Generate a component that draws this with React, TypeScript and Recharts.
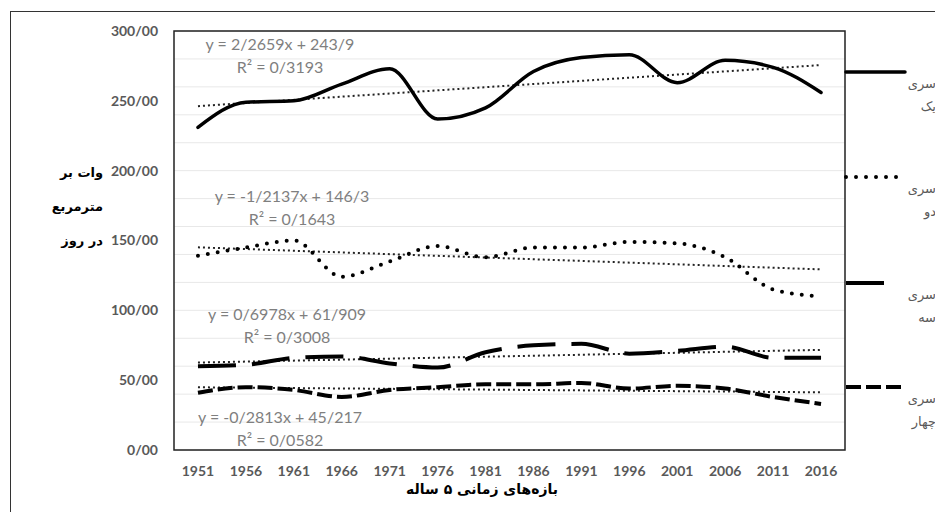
import React from 'react';
import { LineChart, Line, XAxis, YAxis, CartesianGrid, ReferenceArea } from 'recharts';

const years = [1951, 1956, 1961, 1966, 1971, 1976, 1981, 1986, 1991, 1996, 2001, 2006, 2011, 2016];
const seriesOne = [231, 249, 250, 262, 273, 237, 245, 271, 281, 283, 263, 279, 274, 256];
const seriesTwo = [139, 145, 150, 124, 135, 146, 138, 145, 145, 149, 148, 138, 115, 110];
const seriesThree = [60, 61, 66, 67, 62, 59, 70, 75, 76, 69, 71, 74, 66, 66];
const seriesFour = [41, 45, 43, 38, 43, 45, 47, 47, 48, 44, 46, 44, 38, 33];

// trend lines: value at first and last period
const trendStart = [246.2, 145.1, 62.6, 44.9];
const trendEnd = [275.6, 129.3, 71.7, 41.3];

const yTicks = [0, 50, 100, 150, 200, 250, 300];
const gridValues = [0, 10, 20, 30, 40, 50, 60, 70, 80, 90, 100, 110, 120, 130, 140, 150, 160, 170, 180, 190, 200, 210, 220, 230, 240, 250, 260, 270, 280, 290, 300];

const seriesNames = ['یک', 'دو', 'سه', 'چهار'];
const equations = [
  { eq: 'y = 2/2659x + 243/9', r2: 'R² = 0/3193', cx: 280, y: 43 },
  { eq: 'y = -1/2137x + 146/3', r2: 'R² = 0/1643', cx: 292, y: 195 },
  { eq: 'y = 0/6978x + 61/909', r2: 'R² = 0/3008', cx: 287, y: 313 },
  { eq: 'y = -0/2813x + 45/217', r2: 'R² = 0/0582', cx: 280, y: 416 },
];

const last = years.length - 1;
const data = years.map((year, i) => ({
  year,
  s1: seriesOne[i],
  s2: seriesTwo[i],
  s3: seriesThree[i],
  s4: seriesFour[i],
  t1: i === 0 ? trendStart[0] : i === last ? trendEnd[0] : null,
  t2: i === 0 ? trendStart[1] : i === last ? trendEnd[1] : null,
  t3: i === 0 ? trendStart[2] : i === last ? trendEnd[2] : null,
  t4: i === 0 ? trendStart[3] : i === last ? trendEnd[3] : null,
}));

const lineStyles = [
  { dash: undefined, width: 3.5, cap: 'round' as const },
  { dash: '0 10', width: 4, cap: 'round' as const },
  { dash: '38 16', width: 4, cap: 'butt' as const },
  { dash: '15 5', width: 4, cap: 'butt' as const },
];

const persianFont = '"DejaVu Sans", sans-serif';
const latinFont = 'Lato, "Liberation Sans", sans-serif';

const legendRows = [72, 177, 283, 387];
const legendLens = [59, 59, 41, 59];

export default function App() {
  return (
    <div style={{ position: 'fixed', left: 0, top: 0, width: 935, height: 512, overflow: 'hidden', background: '#fff' }}>
      <div style={{ position: 'absolute', left: 10, top: 11, width: 1000, height: 600, borderLeft: '1.5px solid #333', borderTop: '1.5px solid #333' }} />
      <LineChart width={935} height={512} data={data} margin={{ top: 31, right: 90, bottom: 32, left: 114 }}>
        <CartesianGrid vertical={false} stroke="#e8e8e8" horizontalValues={gridValues} />
        <XAxis
          dataKey="year"
          type="number"
          domain={[1948.5, 2018.5]}
          ticks={years}
          axisLine={false}
          tickLine={false}
          tickSize={0}
          tickMargin={16}
          height={30}
          tick={{ fill: '#595959', fontSize: 14, fontWeight: 700, fontFamily: latinFont }}
        />
        <YAxis
          domain={[0, 300]}
          ticks={yTicks}
          width={60}
          axisLine={false}
          tickLine={false}
          tickSize={0}
          tickMargin={16}
          tickFormatter={(v: number) => v.toFixed(2).replace('.', '/')}
          tick={{ fill: '#595959', fontSize: 14, fontWeight: 700, fontFamily: latinFont }}
        />
        {['t1', 't2', 't3', 't4'].map((k) => (
          <Line key={k} dataKey={k} connectNulls stroke="#222" strokeWidth={2} strokeDasharray="2 3" dot={false} activeDot={false} isAnimationActive={false} />
        ))}
        {['s1', 's2', 's3', 's4'].map((k, i) => (
          <Line
            key={k}
            dataKey={k}
            type="monotone"
            stroke="#000"
            strokeWidth={lineStyles[i].width}
            strokeDasharray={lineStyles[i].dash}
            strokeLinecap={lineStyles[i].cap}
            dot={false}
            activeDot={false}
            isAnimationActive={false}
          />
        ))}
        <ReferenceArea x1={1948.5} x2={2018.5} y1={0} y2={300} fill="none" stroke="#222" strokeWidth={1.5} />
      </LineChart>
      <svg width={935} height={512} style={{ position: 'absolute', left: 0, top: 0, pointerEvents: 'none' }}>
        {equations.map((e, i) => (
          <g key={i} fill="#7f7f7f" fontFamily={latinFont} fontSize={16} textAnchor="middle" dominantBaseline="central">
            <text x={e.cx} y={e.y}>{e.eq}</text>
            <text x={e.cx} y={e.y + 23}>{e.r2}</text>
          </g>
        ))}
        {legendRows.map((y, i) => (
          <g key={i}>
            <line
              x1={846}
              x2={846 + legendLens[i]}
              y1={y}
              y2={y}
              stroke="#000"
              strokeWidth={lineStyles[i].width}
              strokeDasharray={lineStyles[i].dash}
              strokeLinecap={lineStyles[i].cap}
            />
            <text x={936} y={y + 11} textAnchor="end" dominantBaseline="central" fontSize={13} fill="#595959" fontFamily={persianFont}>سری</text>
            <text x={936} y={y + 34} textAnchor="end" dominantBaseline="central" fontSize={13} fill="#595959" fontFamily={persianFont}>{seriesNames[i]}</text>
          </g>
        ))}
        <g fontFamily={persianFont} fontWeight={700} fontSize={13} fill="#000" textAnchor="end" dominantBaseline="central">
          <text x={103} y={172}>وات بر</text>
          <text x={103} y={206}>مترمربع</text>
          <text x={103} y={240}>در روز</text>
        </g>
        <text x={482} y={489} textAnchor="middle" dominantBaseline="central" fontFamily={persianFont} fontWeight={700} fontSize={14} fill="#000">
          بازه‌های زمانی ۵ ساله
        </text>
      </svg>
    </div>
  );
}
